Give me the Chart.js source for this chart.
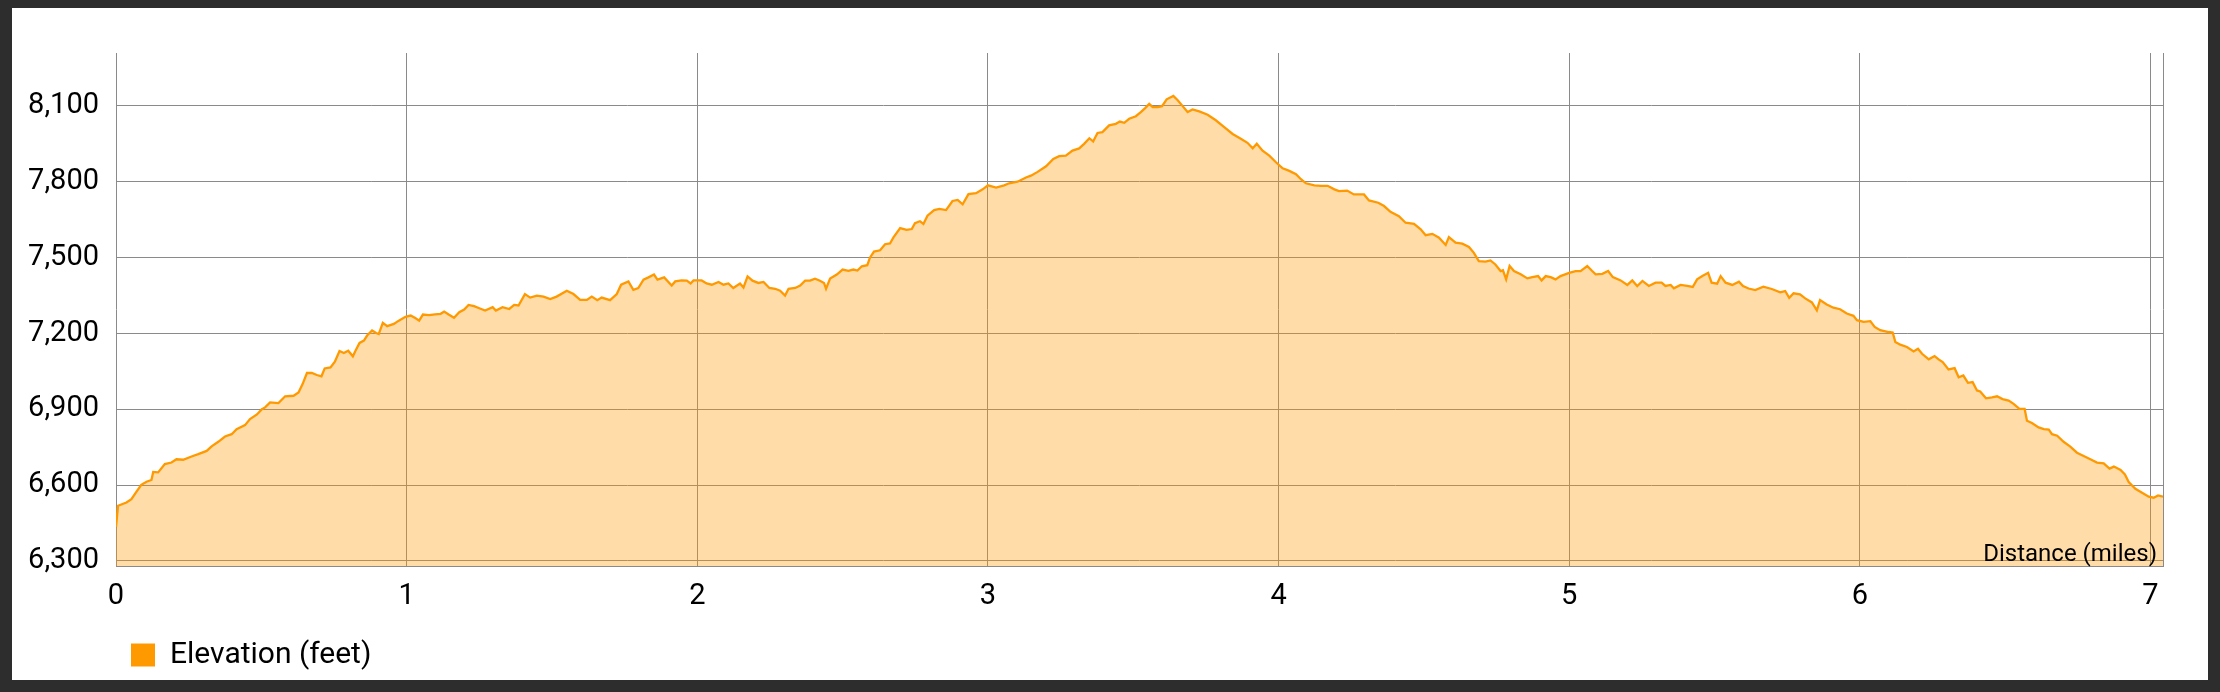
<!DOCTYPE html>
<html>
<head>
<meta charset="utf-8">
<script src="https://cdn.jsdelivr.net/npm/chart.js@4.4.1/dist/chart.umd.min.js"></script>
<style>
  html, body { margin: 0; padding: 0; background: #2d2d2d; }
  #frame { position: absolute; left: 12px; top: 8px; width: 2196px; height: 672px; background: #fff; }
  canvas { display: block; }
</style>
</head>
<body>
<div id="frame"><canvas id="elevationChart" width="2196" height="672"></canvas></div>
<script>
// Distance along the trail (miles)
const distances = [
  0, 0.007, 0.036, 0.053, 0.070, 0.087, 0.105, 0.122, 0.128, 0.145, 0.168, 0.191, 0.208, 0.231, 0.260, 0.283,
  0.312, 0.329, 0.352, 0.375, 0.398, 0.415, 0.444, 0.461, 0.485, 0.502, 0.513, 0.530, 0.559, 0.582, 0.611, 0.628,
  0.642, 0.657, 0.674, 0.691, 0.707, 0.718, 0.738, 0.753, 0.769, 0.784, 0.799, 0.815, 0.824, 0.838, 0.853, 0.864,
  0.881, 0.895, 0.904, 0.918, 0.933, 0.956, 0.973, 0.996, 1.014, 1.031, 1.043, 1.056, 1.077, 1.098, 1.117, 1.129,
  1.146, 1.163, 1.181, 1.198, 1.213, 1.232, 1.250, 1.270, 1.296, 1.307, 1.330, 1.353, 1.370, 1.385,
  1.407, 1.425, 1.448, 1.471, 1.494, 1.516, 1.551, 1.574, 1.597, 1.620, 1.637, 1.656, 1.671, 1.700, 1.723, 1.738,
  1.763, 1.780, 1.797, 1.815, 1.832, 1.851, 1.863, 1.886, 1.912, 1.924, 1.946, 1.964, 1.977, 1.987, 2.015, 2.032,
  2.050, 2.073, 2.090, 2.107, 2.124, 2.147, 2.159, 2.173, 2.190, 2.210, 2.228, 2.248, 2.268, 2.285, 2.302, 2.314,
  2.337, 2.354, 2.371, 2.388, 2.405, 2.422, 2.436, 2.443, 2.457, 2.480, 2.500, 2.520, 2.537, 2.551, 2.566, 2.585,
  2.594, 2.608, 2.629, 2.646, 2.663, 2.675, 2.698, 2.720, 2.738, 2.749, 2.766, 2.778, 2.792,
  2.815, 2.833, 2.856, 2.878, 2.896, 2.913, 2.933, 2.959, 2.982, 3.000, 3.028, 3.056, 3.073, 3.102, 3.131, 3.148,
  3.171, 3.200, 3.225, 3.245, 3.268, 3.291, 3.314, 3.331, 3.349, 3.362, 3.377, 3.394, 3.417, 3.440, 3.454, 3.469,
  3.486, 3.509, 3.526, 3.541, 3.555, 3.567, 3.584, 3.599, 3.615, 3.638, 3.653, 3.670, 3.687, 3.704, 3.727, 3.756,
  3.784, 3.813, 3.842, 3.870, 3.893, 3.911, 3.925, 3.945, 3.968, 3.991, 4.014, 4.037, 4.060, 4.077, 4.094, 4.123,
  4.146, 4.169, 4.192,
  4.208, 4.236, 4.259, 4.294, 4.311, 4.343, 4.363, 4.385, 4.414, 4.437, 4.466, 4.489, 4.506, 4.529, 4.552, 4.575,
  4.586, 4.609, 4.632, 4.655, 4.672, 4.689, 4.712, 4.729, 4.746, 4.764, 4.772, 4.783, 4.795, 4.810, 4.833, 4.856,
  4.873, 4.893, 4.905, 4.919, 4.936, 4.953, 4.970, 5.000, 5.022, 5.039, 5.062, 5.079, 5.091, 5.114, 5.134, 5.150,
  5.177, 5.200, 5.217, 5.234, 5.252, 5.274, 5.297, 5.318, 5.331, 5.349, 5.360, 5.383, 5.406, 5.425, 5.440, 5.458,
  5.478, 5.490, 5.509, 5.521, 5.538, 5.561, 5.584, 5.598,
  5.617, 5.640, 5.668, 5.697, 5.726, 5.743, 5.757, 5.772, 5.794, 5.812, 5.835, 5.852, 5.863, 5.886, 5.909, 5.932,
  5.955, 5.978, 5.990, 6.013, 6.036, 6.051, 6.070, 6.099, 6.113, 6.122, 6.139, 6.162, 6.185, 6.200, 6.214, 6.237,
  6.257, 6.271, 6.285, 6.305, 6.326, 6.340, 6.356, 6.372, 6.388, 6.403, 6.414, 6.434, 6.455, 6.472, 6.491, 6.512,
  6.529, 6.549, 6.567, 6.575, 6.592, 6.615, 6.633, 6.650, 6.661, 6.679, 6.701, 6.724, 6.747, 6.770, 6.793, 6.816,
  6.839, 6.859, 6.874, 6.897, 6.912, 6.925, 6.948, 6.971, 6.994, 7.011, 7.026, 7.043
];

// Elevation at each distance (feet)
const elevations = [
  6435, 6518, 6531, 6544, 6573, 6601, 6613, 6620, 6652, 6650, 6683, 6689, 6702, 6700, 6713, 6722,
  6735, 6753, 6771, 6792, 6801, 6821, 6837, 6861, 6879, 6900, 6907, 6927, 6924, 6951, 6953, 6966,
  6999, 7043, 7043, 7035, 7030, 7061, 7065, 7088, 7130, 7122, 7131, 7109, 7131, 7162, 7171, 7191,
  7211, 7201, 7197, 7241, 7228, 7237, 7250, 7265, 7270, 7259, 7250, 7274, 7272, 7275, 7277, 7286,
  7273, 7261, 7283, 7294, 7312, 7307, 7299, 7290, 7303, 7290, 7303, 7296, 7312, 7310,
  7355, 7341, 7349, 7345, 7335, 7345, 7368, 7355, 7332, 7332, 7345, 7331, 7341, 7331, 7355, 7392,
  7405, 7372, 7379, 7412, 7421, 7432, 7412, 7421, 7389, 7405, 7409, 7408, 7397, 7409, 7409, 7397,
  7392, 7403, 7392, 7397, 7379, 7397, 7381, 7425, 7408, 7399, 7403, 7379, 7376, 7368, 7349, 7376,
  7379, 7389, 7408, 7408, 7416, 7408, 7399, 7376, 7416, 7432, 7452, 7447, 7452, 7448, 7465, 7469,
  7499, 7523, 7528, 7552, 7555, 7579, 7616, 7609, 7612, 7635, 7643, 7632, 7665,
  7687, 7692, 7687, 7723, 7727, 7710, 7750, 7754, 7769, 7785, 7776, 7785, 7793, 7799, 7816, 7823,
  7838, 7860, 7889, 7900, 7902, 7922, 7931, 7949, 7971, 7958, 7992, 7995, 8022, 8028, 8037, 8032,
  8048, 8058, 8074, 8090, 8107, 8094, 8094, 8098, 8125, 8138, 8121, 8098, 8075, 8085, 8077, 8064,
  8042, 8015, 7988, 7969, 7953, 7931, 7949, 7922, 7902, 7876, 7852, 7842, 7829, 7809, 7793, 7785,
  7783, 7783, 7769,
  7762, 7764, 7749, 7749, 7725, 7716, 7703, 7680, 7663, 7637, 7633, 7611, 7588, 7593, 7578, 7549,
  7580, 7558, 7554, 7541, 7518, 7485, 7483, 7488, 7472, 7446, 7449, 7413, 7466, 7446, 7433, 7417,
  7422, 7426, 7409, 7426, 7422, 7413, 7426, 7439, 7446, 7446, 7466, 7446, 7433, 7435, 7446, 7422,
  7409, 7391, 7409, 7387, 7407, 7387, 7400, 7400, 7387, 7391, 7378, 7391, 7387, 7383, 7413, 7426,
  7439, 7400, 7396, 7426, 7400, 7391, 7404, 7387,
  7377, 7371, 7384, 7375, 7362, 7367, 7340, 7358, 7354, 7338, 7322, 7291, 7331, 7314, 7301, 7295,
  7278, 7269, 7252, 7245, 7248, 7225, 7212, 7205, 7203, 7166, 7155, 7146, 7128, 7139, 7119, 7097,
  7110, 7097, 7086, 7057, 7062, 7026, 7033, 7004, 7007, 6974, 6970, 6943, 6947, 6951, 6940, 6934,
  6921, 6901, 6901, 6854, 6845, 6828, 6821, 6819, 6801, 6795, 6771, 6752, 6728, 6715, 6702, 6689,
  6686, 6665, 6673, 6660, 6642, 6612, 6585, 6570, 6554, 6550, 6559, 6554
];

// Axis ticks
const xTicks = [0, 1, 2, 3, 4, 5, 6, 7];
const yTicks = [6300, 6600, 6900, 7200, 7500, 7800, 8100];
const yMin = 6280;
const yMax = 8308;
const xMax = distances[distances.length - 1];

const orange = '#ff9900';
const gridColor = '#8a8a8a';

// Draws the "Distance (miles)" label inside the plot, bottom right
const distanceLabel = {
    id: 'distanceLabel',
    afterDatasetsDraw(chart) {
        const { ctx, chartArea } = chart;
        ctx.save();
        ctx.font = '24px Roboto';
        ctx.fillStyle = '#000';
        ctx.textAlign = 'right';
        ctx.textBaseline = 'alphabetic';
        ctx.fillText('Distance (miles)', chartArea.right - 6, chartArea.bottom - 5);
        ctx.restore();
    }
};

Chart.defaults.font.family = 'Roboto';
Chart.defaults.color = '#000';

const ctx = document.getElementById('elevationChart').getContext('2d');
const elevationChart = new Chart(ctx, {
    type: 'line',
    data: {
        datasets: [{
            label: 'Elevation (feet)',
            data: distances.map((d, i) => ({ x: d, y: elevations[i] })),
            borderColor: orange,
            backgroundColor: 'rgba(255, 153, 0, 0.34)',
            borderWidth: 2.3,
            pointRadius: 0,
            tension: 0,
            fill: 'start'
        }]
    },
    options: {
        responsive: false,
        animation: false,
        layout: {
            padding: { top: 45, right: 45, left: 0, bottom: 0 }
        },
        plugins: {
            tooltip: { enabled: false },
            legend: {
                position: 'bottom',
                align: 'start',
                fullSize: false,
                labels: {
                    boxWidth: 24,
                    boxHeight: 23,
                    padding: 15,
                    font: { size: 30 },
                    color: '#000',
                    generateLabels: function(chart) {
                        const items = Chart.defaults.plugins.legend.labels.generateLabels(chart);
                        items.forEach(item => {
                            item.fillStyle = orange;
                            item.strokeStyle = orange;
                            item.lineWidth = 0;
                        });
                        return items;
                    }
                }
            }
        },
        scales: {
            x: {
                type: 'linear',
                min: 0,
                max: xMax,
                afterBuildTicks: function(scale) {
                    scale.ticks = xTicks.concat([xMax]).map(v => ({ value: v }));
                },
                afterFit: function(scale) {
                    scale.height = 59;
                },
                grid: { color: gridColor, drawTicks: false },
                border: { color: gridColor },
                ticks: {
                    autoSkip: false,
                    maxRotation: 0,
                    padding: 13,
                    font: { size: 29 },
                    color: '#000',
                    callback: function(value) {
                        return xTicks.includes(value) ? String(value) : '';
                    }
                }
            },
            y: {
                min: yMin,
                max: yMax,
                afterBuildTicks: function(scale) {
                    scale.ticks = yTicks.map(v => ({ value: v }));
                },
                afterFit: function(scale) {
                    scale.width = 104;
                },
                grid: { color: gridColor, drawTicks: false },
                border: { display: false },
                ticks: {
                    padding: 17,
                    font: { size: 29 },
                    color: '#000',
                    callback: function(value) {
                        return value.toLocaleString('en-US');
                    }
                }
            }
        }
    },
    plugins: [distanceLabel]
});
</script>
</body>
</html>
